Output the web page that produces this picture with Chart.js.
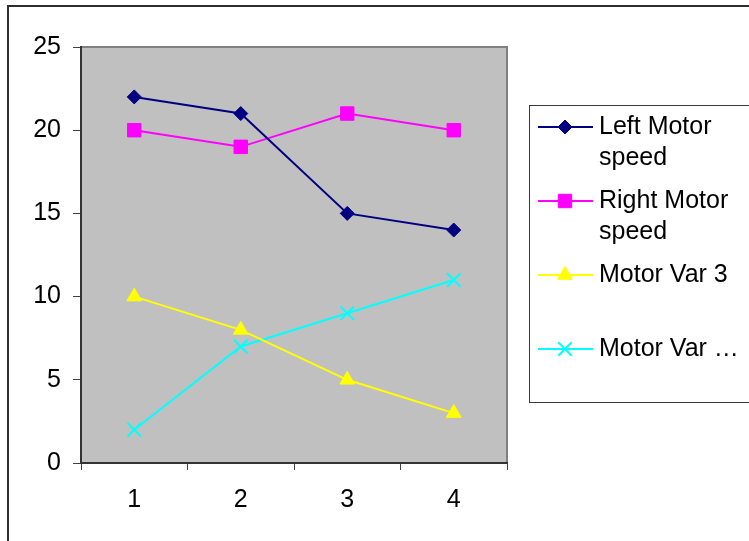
<!DOCTYPE html>
<html>
<head>
<meta charset="utf-8">
<style>
  html, body { margin: 0; padding: 0; background: #ffffff; }
  canvas { display: block; }
</style>
<script src="https://cdn.jsdelivr.net/npm/chart.js@4/dist/chart.umd.min.js"></script>
</head>
<body>
<canvas id="chart" width="749" height="541"></canvas>
<script>
// Category labels along the x axis
const categories = ['1', '2', '3', '4'];

// Series values
const leftMotorSpeed = [22, 21, 15, 14];
const rightMotorSpeed = [20, 19, 21, 20];
const motorVar3 = [10, 8, 5, 3];
const motorVar4 = [2, 7, 9, 11];

// Series names and the wrapped text shown in the legend box
const seriesNames = ['Left Motor speed', 'Right Motor speed', 'Motor Var 3', 'Motor Var 4'];
const legendText = [['Left Motor', 'speed'], ['Right Motor', 'speed'], ['Motor Var 3'], ['Motor Var \u2026']];

// Y axis range
const yMin = 0, yMax = 25, yStep = 5;

const FONT = '"Liberation Sans", Arial, sans-serif';
const FONT_SIZE = 25;

const PLOT = { left: 81, top: 47, right: 507, bottom: 463 };
const W = 749, H = 541;

// Grey plot background, frame around the whole chart
const framePlugin = {
  id: 'frame',
  beforeDraw(chart) {
    const ctx = chart.ctx;
    const a = chart.chartArea;
    ctx.save();
    ctx.fillStyle = '#ffffff';
    ctx.fillRect(0, 0, W, H);
    // outer frame
    ctx.strokeStyle = '#2e2e2e';
    ctx.lineWidth = 2;
    ctx.strokeRect(8, 6, W + 20, H + 20);
    // plot area
    ctx.fillStyle = '#c0c0c0';
    ctx.fillRect(a.left, a.top, a.right - a.left, a.bottom - a.top);
    ctx.strokeStyle = '#808080';
    ctx.lineWidth = 2;
    ctx.beginPath();
    ctx.moveTo(a.left, a.top);
    ctx.lineTo(a.right, a.top);
    ctx.lineTo(a.right, a.bottom);
    ctx.stroke();
    ctx.restore();
  }
};

// Legend box at the right, with wrapped labels
const boxLegendPlugin = {
  id: 'boxLegend',
  afterDraw(chart) {
    const ctx = chart.ctx;
    ctx.save();
    ctx.fillStyle = '#ffffff';
    ctx.fillRect(529, 105, 260, 297);
    ctx.strokeStyle = '#3a3a3a';
    ctx.lineWidth = 1;
    ctx.strokeRect(529.5, 105.5, 260, 297);

    chart.data.datasets.forEach((ds, i) => {
      const y = 127 + 74 * i;
      ctx.strokeStyle = ds.borderColor;
      ctx.lineWidth = 2;
      ctx.beginPath();
      ctx.moveTo(538, y);
      ctx.lineTo(593, y);
      ctx.stroke();
      ctx.fillStyle = ds.pointBackgroundColor;
      ctx.strokeStyle = ds.pointBorderColor;
      ctx.lineWidth = ds.pointBorderWidth;
      Chart.helpers.drawPoint(ctx, {
        pointStyle: ds.pointStyle,
        radius: ds.pointRadius,
        borderWidth: ds.pointBorderWidth,
        rotation: 0
      }, 565, y);

      ctx.fillStyle = '#000000';
      ctx.font = FONT_SIZE + 'px ' + FONT;
      ctx.textBaseline = 'middle';
      ctx.textAlign = 'left';
      legendText[i].forEach((line, j) => {
        ctx.fillText(line, 599, y + 31 * j);
      });
    });
    ctx.restore();
  }
};

function series(i, values, color, style, radius, borderW) {
  return {
    label: seriesNames[i],
    data: values,
    borderColor: color,
    backgroundColor: color,
    borderWidth: 2,
    pointStyle: style,
    pointRadius: radius,
    pointHoverRadius: radius,
    pointBackgroundColor: color,
    pointBorderColor: color,
    pointBorderWidth: borderW,
    tension: 0
  };
}

new Chart(document.getElementById('chart'), {
  type: 'line',
  data: {
    labels: categories,
    datasets: [
      series(0, leftMotorSpeed, '#000080', 'rectRot', 7, 1),
      series(1, rightMotorSpeed, '#ff00ff', 'rect', 9.5, 1),
      series(2, motorVar3, '#ffff00', 'triangle', 8.5, 1),
      series(3, motorVar4, '#00ffff', 'crossRot', 9.5, 2)
    ]
  },
  options: {
    responsive: false,
    animation: false,
    devicePixelRatio: 1,
    layout: { padding: { left: 0, top: PLOT.top, right: W - PLOT.right, bottom: 0 } },
    plugins: {
      legend: { display: false },
      tooltip: { enabled: false }
    },
    scales: {
      x: {
        type: 'category',
        offset: true,
        grid: {
          offset: true,
          drawOnChartArea: false,
          tickLength: 7,
          tickColor: '#404040',
          tickWidth: 1
        },
        border: { display: true, color: '#333333', width: 2 },
        ticks: {
          color: '#000000',
          font: { family: FONT, size: FONT_SIZE },
          padding: 15,
          maxRotation: 0
        },
        afterFit(scale) { scale.height = H - PLOT.bottom; }
      },
      y: {
        min: yMin,
        max: yMax,
        ticks: {
          stepSize: yStep,
          color: '#000000',
          font: { family: FONT, size: FONT_SIZE },
          padding: 12
        },
        grid: {
          drawOnChartArea: false,
          tickLength: 8,
          tickColor: '#404040',
          tickWidth: 1
        },
        border: { display: true, color: '#333333', width: 2 },
        afterFit(scale) { scale.width = PLOT.left; }
      }
    }
  },
  plugins: [framePlugin, boxLegendPlugin]
});
</script>
</body>
</html>
